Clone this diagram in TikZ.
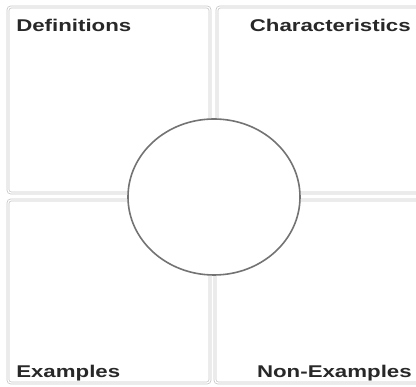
\documentclass[tikz,border=0pt]{standalone}
\usepackage{fontspec}
\setmainfont{Liberation Sans}
\usepackage{tikz}
\usetikzlibrary{shapes.geometric, positioning}
\definecolor{framegray}{RGB}{200,200,200}
\definecolor{ringgray}{RGB}{115,115,115}
\definecolor{labelgray}{RGB}{40,40,40}
\tikzstyle{quadrant} = [draw=framegray, rectangle, rounded corners=3pt, line width=0.8pt, double=white, double distance=1.2pt, inner sep=0pt]
\tikzstyle{hub} = [draw=ringgray, ellipse, fill=white, line width=1.6pt, inner sep=0pt]
\tikzstyle{caption} = [font=\fontsize{17}{20}\selectfont\bfseries, text=labelgray, inner sep=0pt, xscale=1.31]

\begin{document}
\begin{tikzpicture}[x=1pt, y=1pt]
    \useasboundingbox (0,0) rectangle (416,387);
    \node (defbox) [quadrant, minimum width=202pt, minimum height=186pt] at (109,287) {};
    \node (charbox) [quadrant, minimum width=213pt, minimum height=186pt] at (323.5,287) {};
    \node (exbox) [quadrant, minimum width=202pt, minimum height=183pt] at (109,95.5) {};
    \node (nonbox) [quadrant, minimum width=215pt, minimum height=183pt] at (322.5,95.5) {};
    \node (word) [hub, minimum width=172pt, minimum height=156pt] at (214,190) {};
    \node (deflabel) [caption, anchor=base west] at (16,355.3) {Definitions};
    \node (charlabel) [caption, anchor=base east] at (411,355.3) {Characteristics};
    \node (exlabel) [caption, anchor=base west] at (16,9.3) {Examples};
    \node (nonlabel) [caption, anchor=base east] at (412,9.3) {Non-Examples};
\end{tikzpicture}
\end{document}
